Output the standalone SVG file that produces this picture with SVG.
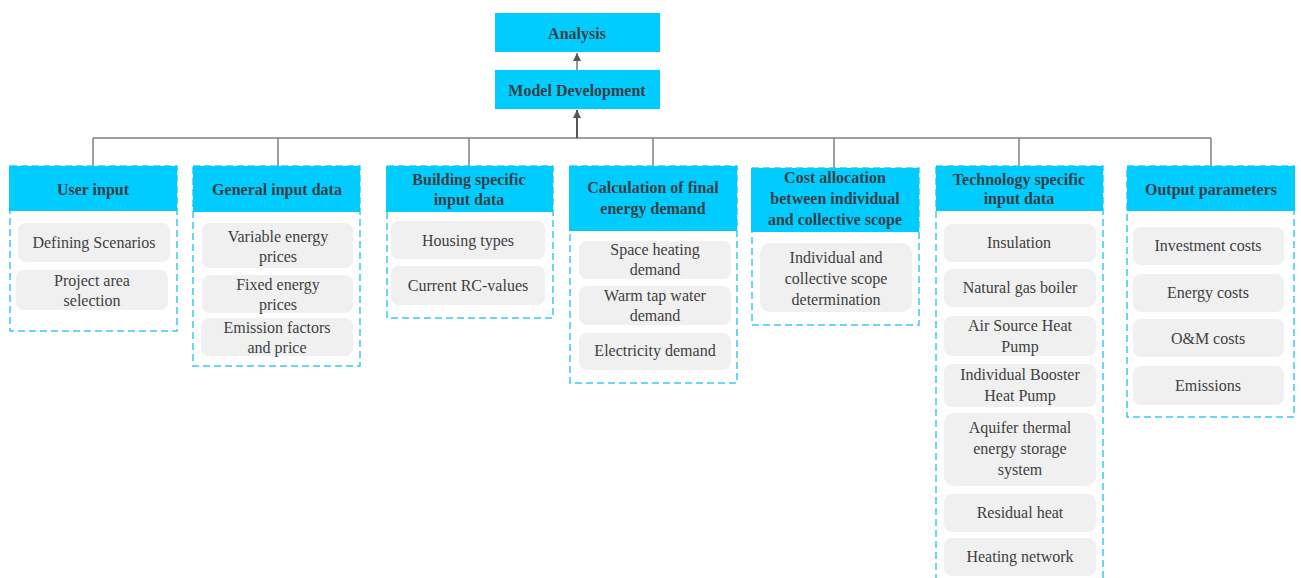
<svg xmlns="http://www.w3.org/2000/svg" width="1301" height="578" viewBox="0 0 1301 578">
<defs>
<marker id="ah" viewBox="0 0 10 10" refX="10" refY="5" markerWidth="8" markerHeight="8" markerUnits="userSpaceOnUse" orient="auto"><path d="M0,0 L10,5 L0,10 z" fill="#555"/></marker>
<style>
.hd{fill:#00ccff}
.dash{fill:none;stroke:#3cc8f0;stroke-width:1.5;stroke-dasharray:7,4}
.it{fill:#f0f0f0}
.ht{font-family:"Liberation Serif",serif;font-weight:bold;font-size:16px;fill:#3a3f44;text-anchor:middle}
.tt{font-family:"Liberation Serif",serif;font-size:16px;fill:#404040;text-anchor:middle}
.ln{stroke:#808080;stroke-width:1.5;fill:none}
</style>
</defs>
<g id="connectors">
<path class="ln" d="M93,138 H1211 M93,138 V166 M278,138 V166 M469,138 V166 M653,138 V166 M834,138 V168 M1019,138 V166 M1211,138 V166"/>
<line x1="577" y1="138" x2="577" y2="110" stroke="#555" stroke-width="2" marker-end="url(#ah)"/>
<line x1="577" y1="70" x2="577" y2="53" stroke="#777" stroke-width="1.5" marker-end="url(#ah)"/>
</g>
<g id="analysis"><rect class="hd" x="495" y="13" width="165" height="39"/><text class="ht" x="577" y="39">Analysis</text></g>
<g id="model-development"><rect class="hd" x="495" y="70" width="165" height="39"/><text class="ht" x="577" y="96">Model Development</text></g>

<g id="user-input">
<rect class="dash" x="10" y="166" width="167" height="165"/>
<rect class="hd" x="9" y="166" width="168" height="45"/>
<text class="ht" x="93" y="195">User input</text>
<rect class="it" x="18" y="223" width="152" height="39" rx="8"/><text class="tt" x="94" y="248">Defining Scenarios</text>
<rect class="it" x="16" y="270" width="152" height="40" rx="8"/><text class="tt" x="92" y="286">Project area</text><text class="tt" x="92" y="306">selection</text>
</g>

<g id="general-input">
<rect class="dash" x="193" y="166" width="167" height="200"/>
<rect class="hd" x="193" y="166" width="167" height="46"/>
<text class="ht" x="277" y="195">General input data</text>
<rect class="it" x="202" y="223" width="151" height="45" rx="8"/><text class="tt" x="278" y="242">Variable energy</text><text class="tt" x="278" y="262">prices</text>
<rect class="it" x="202" y="275" width="151" height="38" rx="8"/><text class="tt" x="278" y="290">Fixed energy</text><text class="tt" x="278" y="310">prices</text>
<rect class="it" x="201" y="318" width="152" height="38" rx="8"/><text class="tt" x="277" y="333">Emission factors</text><text class="tt" x="277" y="353">and price</text>
</g>

<g id="building-specific">
<rect class="dash" x="387" y="166" width="166" height="152"/>
<rect class="hd" x="386" y="166" width="167" height="46"/>
<text class="ht" x="469" y="185">Building specific</text><text class="ht" x="469" y="205">input data</text>
<rect class="it" x="391" y="221" width="154" height="38" rx="8"/><text class="tt" x="468" y="246">Housing types</text>
<rect class="it" x="391" y="266" width="154" height="39" rx="8"/><text class="tt" x="468" y="291">Current RC-values</text>
</g>

<g id="calculation">
<rect class="dash" x="570" y="166" width="167" height="217"/>
<rect class="hd" x="569" y="166" width="168" height="65"/>
<text class="ht" x="653" y="193">Calculation of final</text><text class="ht" x="653" y="214">energy demand</text>
<rect class="it" x="579" y="241" width="152" height="38" rx="8"/><text class="tt" x="655" y="255">Space heating</text><text class="tt" x="655" y="275">demand</text>
<rect class="it" x="579" y="286" width="152" height="39" rx="8"/><text class="tt" x="655" y="301">Warm tap water</text><text class="tt" x="655" y="321">demand</text>
<rect class="it" x="579" y="333" width="152" height="37" rx="8"/><text class="tt" x="655" y="356">Electricity demand</text>
</g>

<g id="cost-allocation">
<rect class="dash" x="752" y="168" width="167" height="157"/>
<rect class="hd" x="751" y="168" width="168" height="64"/>
<text class="ht" x="835" y="183">Cost allocation</text><text class="ht" x="835" y="204">between individual</text><text class="ht" x="835" y="225">and collective scope</text>
<rect class="it" x="760" y="243" width="152" height="69" rx="10"/><text class="tt" x="836" y="263">Individual and</text><text class="tt" x="836" y="284">collective scope</text><text class="tt" x="836" y="305">determination</text>
</g>

<g id="technology-specific">
<rect class="dash" x="936" y="166" width="167" height="420"/>
<rect class="hd" x="936" y="166" width="167" height="45"/>
<text class="ht" x="1019" y="185">Technology specific</text><text class="ht" x="1019" y="204">input data</text>
<rect class="it" x="944" y="224" width="152" height="38" rx="8"/><text class="tt" x="1019" y="248">Insulation</text>
<rect class="it" x="944" y="269" width="152" height="38" rx="8"/><text class="tt" x="1020" y="293">Natural gas boiler</text>
<rect class="it" x="944" y="316" width="152" height="40" rx="8"/><text class="tt" x="1020" y="331">Air Source Heat</text><text class="tt" x="1020" y="352">Pump</text>
<rect class="it" x="944" y="364" width="152" height="43" rx="8"/><text class="tt" x="1020" y="380">Individual Booster</text><text class="tt" x="1020" y="401">Heat Pump</text>
<rect class="it" x="944" y="413" width="152" height="73" rx="10"/><text class="tt" x="1020" y="433">Aquifer thermal</text><text class="tt" x="1020" y="454">energy storage</text><text class="tt" x="1020" y="475">system</text>
<rect class="it" x="944" y="494" width="152" height="38" rx="8"/><text class="tt" x="1020" y="518">Residual heat</text>
<rect class="it" x="944" y="538" width="152" height="38" rx="8"/><text class="tt" x="1020" y="562">Heating network</text>
</g>

<g id="output-parameters">
<rect class="dash" x="1127" y="166" width="167" height="251"/>
<rect class="hd" x="1127" y="166" width="168" height="45"/>
<text class="ht" x="1211" y="195">Output parameters</text>
<rect class="it" x="1133" y="227" width="151" height="38" rx="8"/><text class="tt" x="1208" y="251">Investment costs</text>
<rect class="it" x="1133" y="274" width="151" height="38" rx="8"/><text class="tt" x="1208" y="298">Energy costs</text>
<rect class="it" x="1133" y="319" width="151" height="38" rx="8"/><text class="tt" x="1208" y="344">O&amp;M costs</text>
<rect class="it" x="1133" y="366" width="151" height="39" rx="8"/><text class="tt" x="1208" y="391">Emissions</text>
</g>
</svg>
